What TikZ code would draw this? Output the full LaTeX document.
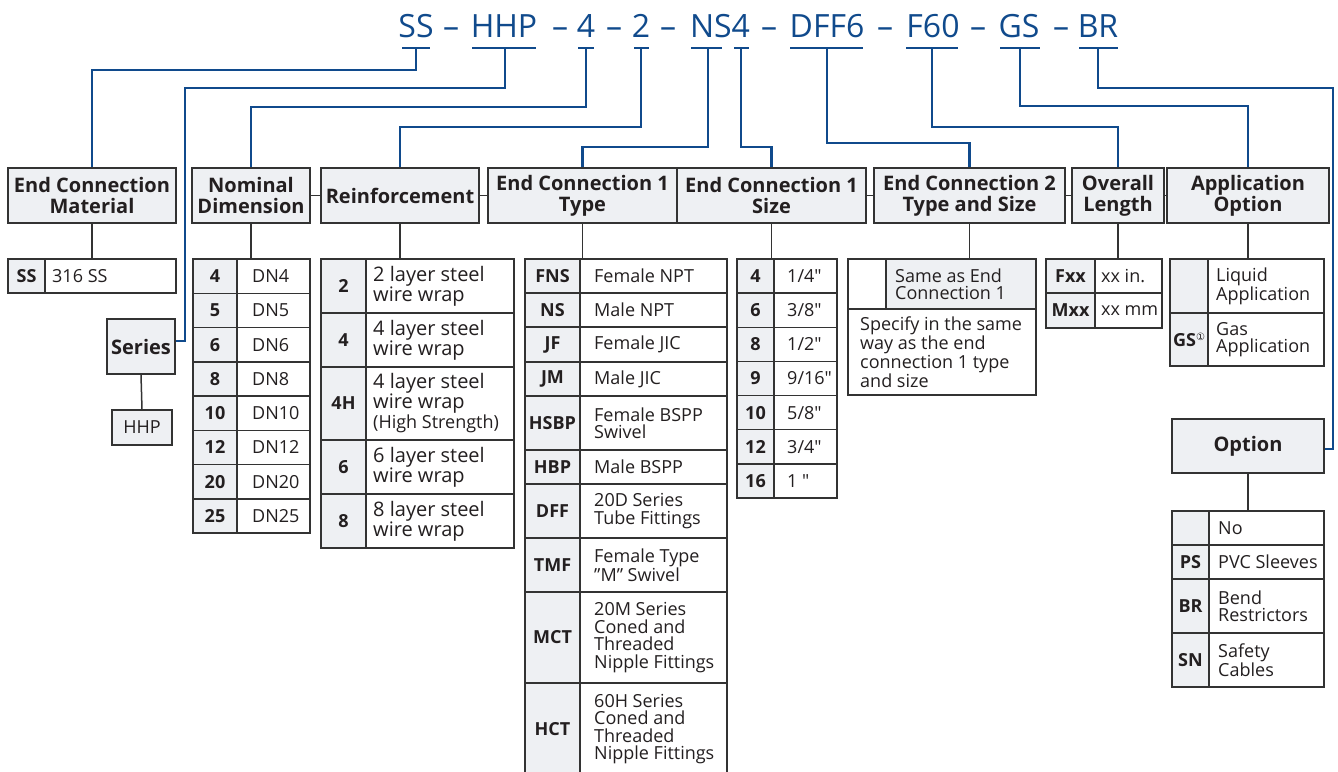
\documentclass[tikz,border=0pt]{standalone}
\usepackage{fontspec}
\setmainfont{Open Sans}
\newfontfamily\plainq{Open Sans}[Ligatures=ResetAll]
\newfontfamily\dejavu{DejaVu Sans}
\definecolor{codeblue}{RGB}{16,74,140}
\definecolor{cellgray}{RGB}{238,240,243}
\definecolor{linegray}{RGB}{51,51,51}
\definecolor{textblack}{RGB}{35,31,32}
\newcommand\hfont{\bfseries\fontsize{20}{21}\selectfont}
\newcommand\cfont{\bfseries\fontsize{18}{18}\selectfont}
\newcommand\valfont{\fontsize{18}{17.5}\selectfont}
\newcommand\codewfont{\fontsize{32}{32}\selectfont}
\newcommand\padx{14}
\newcommand\inch{{\plainq"}}
\tikzset{
  blueline/.style={draw=codeblue, line width=2.2pt},
  uline/.style={draw=codeblue, line width=2.6pt},
  gline/.style={draw=linegray, line width=1.5pt},
  hbox/.style={draw=linegray, line width=1.5pt, fill=cellgray, align=center, font=\hfont, inner sep=0pt, text=textblack},
  codecell/.style={draw=linegray, line width=1.5pt, fill=cellgray},
  valcell/.style={draw=linegray, line width=1.5pt, fill=white},
  codetext/.style={font=\cfont, inner sep=0pt, text=textblack},
  valtext/.style={font=\valfont, inner sep=0pt, align=left, anchor=west, text=textblack},
  codeword/.style={font=\codewfont, text=codeblue, inner sep=0pt, anchor=base},
}
% name, x0, xsplit, x1, y0, y1, code, value
\newcommand\trow[8]{%
  \path[codecell] (#2,#5) rectangle (#3,#6);
  \path[valcell] (#3,#5) rectangle (#4,#6);
  \node[codetext] (#1c) at ({(#2+#3)/2},{(#5+#6)/2}) {#7};
  \node[valtext] (#1v) at ({#3+\padx},{(#5+#6)/2}) {#8};
}
\begin{document}
\begin{tikzpicture}[x=1pt,y=-1pt]
\useasboundingbox (0,0) rectangle (1338,771);
\clip (0,0) rectangle (1338,771);
\fill[white] (0,0) rectangle (1338,771);

% ---------- code line ----------
\node[codeword] (wSS) at (416,37) {SS};
\node[codeword] (d1) at (451,37) {–};
\node[codeword] (wHHP) at (504,37) {HHP};
\node[codeword] (d2) at (560,37) {–};
\node[codeword] (w4) at (586,37) {4};
\node[codeword] (d3) at (614,37) {–};
\node[codeword] (w2) at (641,37) {2};
\node[codeword] (d4) at (668,37) {–};
\node[codeword] (wNS) at (720,37) {NS4};
\node[codeword] (d5) at (769,37) {–};
\node[codeword] (wDFF) at (827,37) {DFF6};
\node[codeword] (d6) at (885,37) {–};
\node[codeword] (wF60) at (933,37) {F60};
\node[codeword] (d7) at (978,37) {–};
\node[codeword] (wGS) at (1019,37) {GS};
\node[codeword] (d8) at (1061,37) {–};
\node[codeword] (wBR) at (1098,37) {BR};

\draw[uline] (402,48) -- (430,48);   \coordinate (uSS) at (416,48);
\draw[uline] (472,48) -- (536,48);   \coordinate (uHHP) at (505,48);
\draw[uline] (578,48) -- (594,48);   \coordinate (u4) at (586,48);
\draw[uline] (634,48) -- (649,48);   \coordinate (u2) at (641,48);
\draw[uline] (691,48) -- (722,48);   \coordinate (uNS) at (708,48);
\draw[uline] (734,48) -- (749,48);   \coordinate (u4b) at (741,48);
\draw[uline] (790,48) -- (863,48);   \coordinate (uDFF) at (827,48);
\draw[uline] (906,48) -- (958,48);   \coordinate (uF60) at (932,48);
\draw[uline] (1000,48) -- (1040,48); \coordinate (uGS) at (1020,48);
\draw[uline] (1079,48) -- (1118,48); \coordinate (uBR) at (1098,48);

% ---------- header boxes ----------
\node[hbox, minimum width=168, minimum height=55] (hmat) at (92,195.5) {End Connection\\Material};
\node[hbox, minimum width=118, minimum height=55] (hnom) at (251,195.5) {Nominal\\Dimension};
\node[hbox, minimum width=158, minimum height=55] (hrein) at (400,195.5) {Reinforcement};
\node[hbox, minimum width=189, minimum height=55] (htype) at (582.5,195.5) {End Connection 1\\Type};
\node[hbox, minimum width=189, minimum height=55] (hsize) at (771.5,195.5) {End Connection 1\\Size};
\node[hbox, minimum width=191, minimum height=55] (hec2) at (969.5,195.5) {End Connection 2\\Type and Size};
\node[hbox, minimum width=92, minimum height=55] (hol) at (1118,195.5) {Overall\\Length};
\node[hbox, minimum width=162, minimum height=55] (happ) at (1248,195.5) {Application\\Option};

\draw[gline] (hnom.east) -- (hrein.west);
\draw[gline] (hrein.east) -- (htype.west);
\draw[gline] (hsize.east) -- (hec2.west);
\draw[gline] (hec2.east) -- (hol.west);
\draw[gline] (hol.east) -- (happ.west);

\foreach \h in {hmat,hnom,hrein,htype,hsize,hec2,hol,happ}
  \draw[gline] (\h.south) -- ++(0,36);

% ---------- series ----------
\node[hbox, minimum width=68, minimum height=55] (ser) at (141,346.5) {Series};
\node[hbox, font=\valfont, minimum width=60, minimum height=35] (hhp) at (142,427.5) {HHP};
\draw[gline] (ser.south) -- (hhp.north);
\coordinate (serhook) at (185,341);

% ---------- option ----------
\node[hbox, minimum width=152, minimum height=54] (opt) at (1248,446) {Option};
\draw[gline] (opt.south) -- ++(0,38);
\coordinate (opthook) at (1333,449);

% ---------- blue connectors ----------
\draw[blueline] (uSS) -- ++(0,22) -| (hmat.north);
\draw[blueline] (uHHP) -- ++(0,40) -| (serhook) -- (ser.east |- serhook);
\draw[blueline] (u4) -- ++(0,59) -| (hnom.north);
\draw[blueline] (u2) -- ++(0,79) -| (hrein.north);
\draw[blueline] (uNS) -- ++(0,99) -| (htype.north);
\draw[blueline] (u4b) -- ++(0,99) -| (hsize.north);
\draw[blueline] (uDFF) -- ++(0,95) -| (hec2.north);
\draw[blueline] (uF60) -- ++(0,79) -| (hol.north);
\draw[blueline] (uGS) -- ++(0,58) -| (happ.north);
\draw[blueline] (uBR) -- ++(0,40) -| (opthook) -- (opt.east |- opthook);

% ---------- material table ----------
\renewcommand\padx{7}
\trow{mss}{8}{45}{176}{259}{293}{SS}{316 SS}

% ---------- nominal table ----------
\renewcommand\padx{15}
\foreach \c [count=\i from 0] in {4,5,6,8,10,12,20,25} {
  \pgfmathsetmacro\ya{259+34.25*\i}
  \pgfmathsetmacro\yb{\ya+34.25}
  \trow{nom\i}{193}{237}{310}{\ya}{\yb}{\c}{DN\c}
}

% ---------- reinforcement table ----------
\renewcommand\padx{7}
\renewcommand\valfont{\fontsize{20}{20}\selectfont}
\trow{r1}{321}{366}{514}{259}{313}{2}{2 layer steel\\wire wrap}
\trow{r2}{321}{366}{514}{313}{367}{4}{4 layer steel\\wire wrap}
\trow{r3}{321}{366}{514}{367}{440}{4H}{4 layer steel\\wire wrap\\{\fontsize{18}{18}\selectfont(High Strength)}}
\trow{r4}{321}{366}{514}{440}{494}{6}{6 layer steel\\wire wrap}
\trow{r5}{321}{366}{514}{494}{548}{8}{8 layer steel\\wire wrap}

% ---------- type table ----------
\renewcommand\padx{14}
\renewcommand\valfont{\fontsize{18}{17.5}\selectfont}
\trow{t1}{525}{580}{727}{259}{293}{FNS}{Female NPT}
\trow{t2}{525}{580}{727}{293}{327}{NS}{Male NPT}
\trow{t3}{525}{580}{727}{327}{362}{JF}{Female JIC}
\trow{t4}{525}{580}{727}{362}{396}{JM}{Male JIC}
\trow{t5}{525}{580}{727}{396}{450}{HSBP}{Female BSPP\\Swivel}
\trow{t6}{525}{580}{727}{450}{484}{HBP}{Male BSPP}
\trow{t7}{525}{580}{727}{484}{538}{DFF}{20D Series\\Tube Fittings}
\trow{t8}{525}{580}{727}{538}{592}{TMF}{Female Type\\”M” Swivel}
\trow{t9}{525}{580}{727}{592}{683}{MCT}{20M Series\\Coned and\\Threaded\\Nipple Fittings}
\trow{t10}{525}{580}{727}{683}{775}{HCT}{60H Series\\Coned and\\Threaded\\Nipple Fittings}

% ---------- size table ----------
\renewcommand\padx{13}
\foreach \c/\v [count=\i from 0] in {4/1\slash4\inch,6/3\slash8\inch,8/1\slash2\inch,9/9\slash16\inch,10/5\slash8\inch,12/3\slash4\inch,16/1 \inch} {
  \pgfmathsetmacro\ya{259+34.14*\i}
  \pgfmathsetmacro\yb{\ya+34.14}
  \trow{s\i}{737}{774}{837}{\ya}{\yb}{\c}{\v}
}

% ---------- end connection 2 table ----------
\path[valcell] (848,259) rectangle (886,309);
\path[codecell] (886,259) rectangle (1036,309);
\path[valcell] (848,309) rectangle (1036,395);
\node[valtext] (ec2a) at (895,284) {Same as End\\Connection 1};
\node[valtext] (ec2b) at (860,352) {Specify in the same\\way as the end\\connection 1 type\\and size};

% ---------- overall length table ----------
\renewcommand\padx{6}
\trow{o1}{1046}{1095}{1162}{259}{293}{Fxx}{xx in.}
\trow{o2}{1046}{1095}{1162}{293}{328}{Mxx}{xx mm}

% ---------- application table ----------
\renewcommand\padx{8}
\trow{a1}{1170}{1208}{1324}{259}{313}{}{Liquid\\Application}
\trow{a2}{1170}{1208}{1324}{313}{366}{GS\raisebox{6pt}{\dejavu\mdseries\fontsize{10}{10}\selectfont ①}}{Gas\\Application}

% ---------- option table ----------
\renewcommand\padx{9}
\trow{p1}{1172}{1209}{1324}{511}{545}{}{No}
\trow{p2}{1172}{1209}{1324}{545}{579}{PS}{PVC Sleeves}
\trow{p3}{1172}{1209}{1324}{579}{633}{BR}{Bend\\Restrictors}
\trow{p4}{1172}{1209}{1324}{633}{687}{SN}{Safety\\Cables}
\end{tikzpicture}
\end{document}
